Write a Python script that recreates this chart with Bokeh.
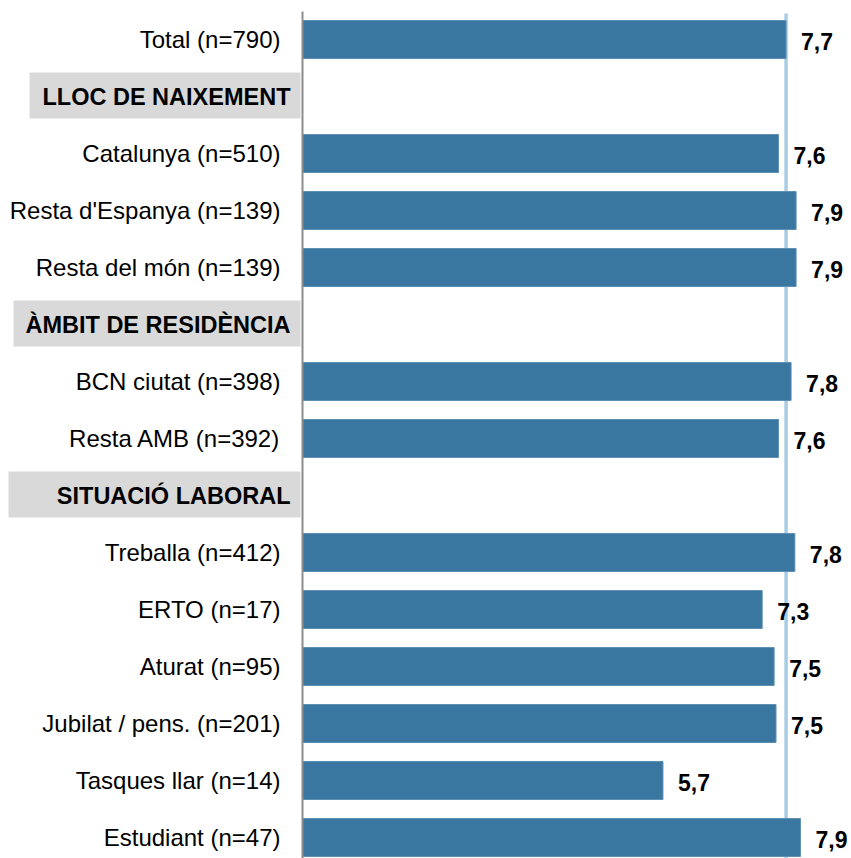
from bokeh.plotting import figure
from bokeh.models import Range1d, ColumnDataSource
from bokeh.embed import file_html
from bokeh.resources import INLINE
from bokeh.core.properties import value

# ---------------- data ----------------
labels = [
    "Total (n=790)",
    "LLOC DE NAIXEMENT",
    "Catalunya (n=510)",
    "Resta d'Espanya (n=139)",
    "Resta del món (n=139)",
    "ÀMBIT DE RESIDÈNCIA",
    "BCN ciutat (n=398)",
    "Resta AMB (n=392)",
    "SITUACIÓ LABORAL",
    "Treballa (n=412)",
    "ERTO (n=17)",
    "Aturat (n=95)",
    "Jubilat / pens. (n=201)",
    "Tasques llar (n=14)",
    "Estudiant (n=47)",
]
is_header = [False, True, False, False, False, True, False, False, True,
             False, False, False, False, False, False]
values = [7.70, None, 7.58, 7.86, 7.86, None, 7.78, 7.58, None,
          7.84, 7.32, 7.51, 7.54, 5.74, 7.93]
total_value = values[0]

# ---------------- layout / style ----------------
W, H = 851, 858
PX_PER_UNIT = 62.8      # horizontal scale
AXIS_PX = 302           # distance of the value axis from the left edge
ROW_PX = 57             # distance between rows
FIRST_ROW_PX = 39       # centre of first row from top
BAR_COLOR = "#3a77a0"
BAR_EDGE = "#5f90b6"
REF_COLOR = "#a9cce4"
AXIS_COLOR = "#8c8c8c"
HEADER_BG = "#d9d9d9"
FONT = "Liberation Sans"
header_box_left_px = {"LLOC DE NAIXEMENT": 29, "ÀMBIT DE RESIDÈNCIA": 13,
                      "SITUACIÓ LABORAL": 8}
HEADER_BOX_RIGHT_PX = 300
HEADER_BOX_HALF = 23 / ROW_PX

def px_to_x(px):
    return (px - AXIS_PX) / PX_PER_UNIT

x_start = px_to_x(0)
x_end = px_to_x(W)
y_top = -FIRST_ROW_PX / ROW_PX
y_bottom = y_top + H / ROW_PX

rows = list(range(len(labels)))

bar_src = ColumnDataSource(dict(
    row=[r for r, v in zip(rows, values) if v is not None],
    value=[v for v in values if v is not None],
    label=[f"{v:.1f}".replace(".", ",") for v in values if v is not None],
))
cat_src = ColumnDataSource(dict(
    row=[r for r, h in zip(rows, is_header) if not h],
    text=[l for l, h in zip(labels, is_header) if not h],
))
head_rows = [r for r, h in zip(rows, is_header) if h]
head_text = [l for l, h in zip(labels, is_header) if h]
head_src = ColumnDataSource(dict(
    row=head_rows,
    text=head_text,
    left=[px_to_x(header_box_left_px[t]) for t in head_text],
    right=[px_to_x(HEADER_BOX_RIGHT_PX)] * len(head_rows),
    top=[r - HEADER_BOX_HALF - 1 / ROW_PX for r in head_rows],
    bottom=[r + HEADER_BOX_HALF - 1 / ROW_PX for r in head_rows],
))

p = figure(width=W, height=H,
           x_range=Range1d(x_start, x_end),
           y_range=Range1d(y_bottom, y_top),
           x_axis_type=None, y_axis_type=None,
           output_backend="svg", toolbar_location=None,
           min_border=0)
p.grid.visible = False
p.outline_line_color = None
p.background_fill_color = "white"
p.border_fill_color = "white"

# reference line at total (behind bars)
p.segment(x0=total_value, x1=total_value, y0=y_top + 13 / ROW_PX, y1=y_bottom,
          line_color=REF_COLOR, line_width=3.5)

# bars
p.hbar(y="row", left=0, right="value", height=38 / ROW_PX, source=bar_src,
       fill_color=BAR_COLOR, line_color=BAR_EDGE, line_width=1)

# axis line
p.segment(x0=0, x1=0, y0=y_top + 11 / ROW_PX, y1=y_bottom,
          line_color=AXIS_COLOR, line_width=2)

# header boxes and texts
p.quad(left="left", right="right", top="top", bottom="bottom", source=head_src,
       fill_color=HEADER_BG, line_color=None)
p.text(x=0, y="row", text="text", source=head_src, x_offset=-12, y_offset=0,
       text_align="right", text_baseline="middle",
       text_font=value(FONT), text_font_size="23.5px", text_font_style="bold",
       text_color="black")

# category labels
p.text(x=0, y="row", text="text", source=cat_src, x_offset=-22, y_offset=0,
       text_align="right", text_baseline="middle",
       text_font=value(FONT), text_font_size="24px", text_color="black")

# value labels
p.text(x="value", y="row", text="label", source=bar_src, x_offset=15, y_offset=2,
       text_align="left", text_baseline="middle",
       text_font=value(FONT), text_font_size="23px", text_font_style="bold",
       text_color="black")

open("out.html", "w").write(file_html(p, INLINE))
